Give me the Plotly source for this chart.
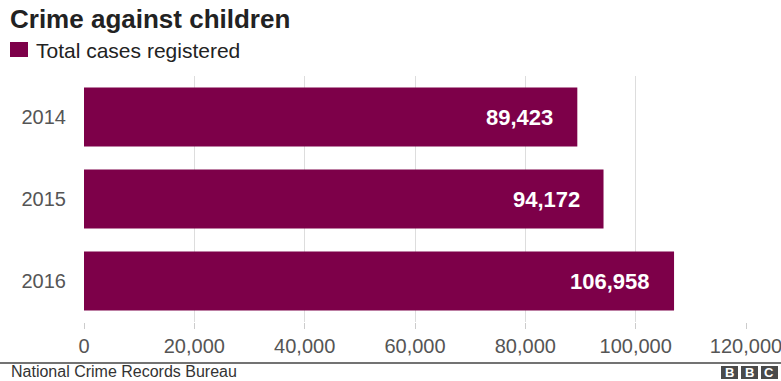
import plotly.graph_objects as go

years = ["2014", "2015", "2016"]
cases = [89423, 94172, 106958]
series_name = "Total cases registered"
x_ticks = [0, 20000, 40000, 60000, 80000, 100000, 120000]
x_tick_labels = ["0", "20,000", "40,000", "60,000", "80,000", "100,000", "120,000"]

BAR = "#7d0049"
FONT = "Liberation Sans, Arial"
W, H = 781, 381
L, R, T, B = 84, 35, 76, 59
pw, ph = W - L - R, H - T - B

def px_to_paper_x(px):
    return (px - L) / pw

def px_to_paper_y(py):
    return (H - B - py) / ph

fig = go.Figure()
fig.add_trace(go.Bar(
    x=cases, y=years, orientation="h", name=series_name,
    marker=dict(color=BAR, line=dict(width=0)),
    showlegend=False, hoverinfo="x+y",
))

# value labels inside bar ends (category index used as y position)
for idx, (yv, xv) in enumerate(zip(years, cases)):
    fig.add_annotation(x=xv, y=idx, xref="x", yref="y", text=f"<b>{xv:,}</b>",
                       showarrow=False, xanchor="right", yanchor="middle", xshift=-22,
                       font=dict(family=FONT, size=22, color="white"))

# legend (swatch + label)
fig.add_shape(type="rect", xref="paper", yref="paper",
              x0=px_to_paper_x(10), x1=px_to_paper_x(28),
              y0=px_to_paper_y(57), y1=px_to_paper_y(42),
              fillcolor=BAR, line=dict(width=0))
fig.add_annotation(xref="paper", yref="paper", x=px_to_paper_x(34), y=px_to_paper_y(50),
                   xanchor="left", yanchor="middle", showarrow=False, text=series_name,
                   font=dict(family=FONT, size=21, color="#222222"))

# footer line
fig.add_shape(type="line", xref="paper", yref="paper",
              x0=px_to_paper_x(0), x1=px_to_paper_x(W), y0=px_to_paper_y(363), y1=px_to_paper_y(363),
              line=dict(color="#444444", width=1.5))
fig.add_annotation(xref="paper", yref="paper", x=px_to_paper_x(9), y=px_to_paper_y(371.5),
                   xanchor="left", yanchor="middle", showarrow=False,
                   text="National Crime Records Bureau",
                   font=dict(family=FONT, size=16, color="#333333"))
# BBC blocks
for i, letter in enumerate("BBC"):
    x0 = 721 + i * 20
    fig.add_shape(type="rect", xref="paper", yref="paper",
                  x0=px_to_paper_x(x0), x1=px_to_paper_x(x0 + 17),
                  y0=px_to_paper_y(379), y1=px_to_paper_y(366),
                  fillcolor="#4a4a4a", line=dict(width=0))
    fig.add_annotation(xref="paper", yref="paper", x=px_to_paper_x(x0 + 8.5), y=px_to_paper_y(372.5),
                       text=f"<b>{letter}</b>", showarrow=False, xanchor="center", yanchor="middle",
                       font=dict(family=FONT, size=13, color="white"))

fig.update_layout(
    width=W, height=H,
    margin=dict(l=L, r=R, t=T, b=B, autoexpand=False),
    paper_bgcolor="white", plot_bgcolor="white",
    font=dict(family=FONT, size=20, color="#555555"),
    title=dict(text="<b>Crime against children</b>", x=10 / W, xref="container", xanchor="left",
               y=1 - 19 / H, yref="container", yanchor="middle",
               font=dict(family=FONT, size=26, color="#222222")),
    bargap=0.28,
    showlegend=False,
    xaxis=dict(range=[0, 120000], autorange=False, tickvals=x_ticks, ticktext=x_tick_labels,
               showgrid=True, gridcolor="#dddddd", gridwidth=1, zeroline=False,
               ticks="outside", ticklen=6, tickcolor="#cccccc", showline=False,
               ticklabeloverflow="allow",
               tickfont=dict(size=20, color="#555555"), fixedrange=True),
    yaxis=dict(type="category", categoryorder="array", categoryarray=years,
               range=[len(years) - 0.5, -0.5], autorange=False,
               showgrid=False, ticks="outside", ticklen=13,
               tickcolor="rgba(0,0,0,0)", tickfont=dict(size=20, color="#555555"),
               showline=False, fixedrange=True),
)

fig.write_html("out.html")
